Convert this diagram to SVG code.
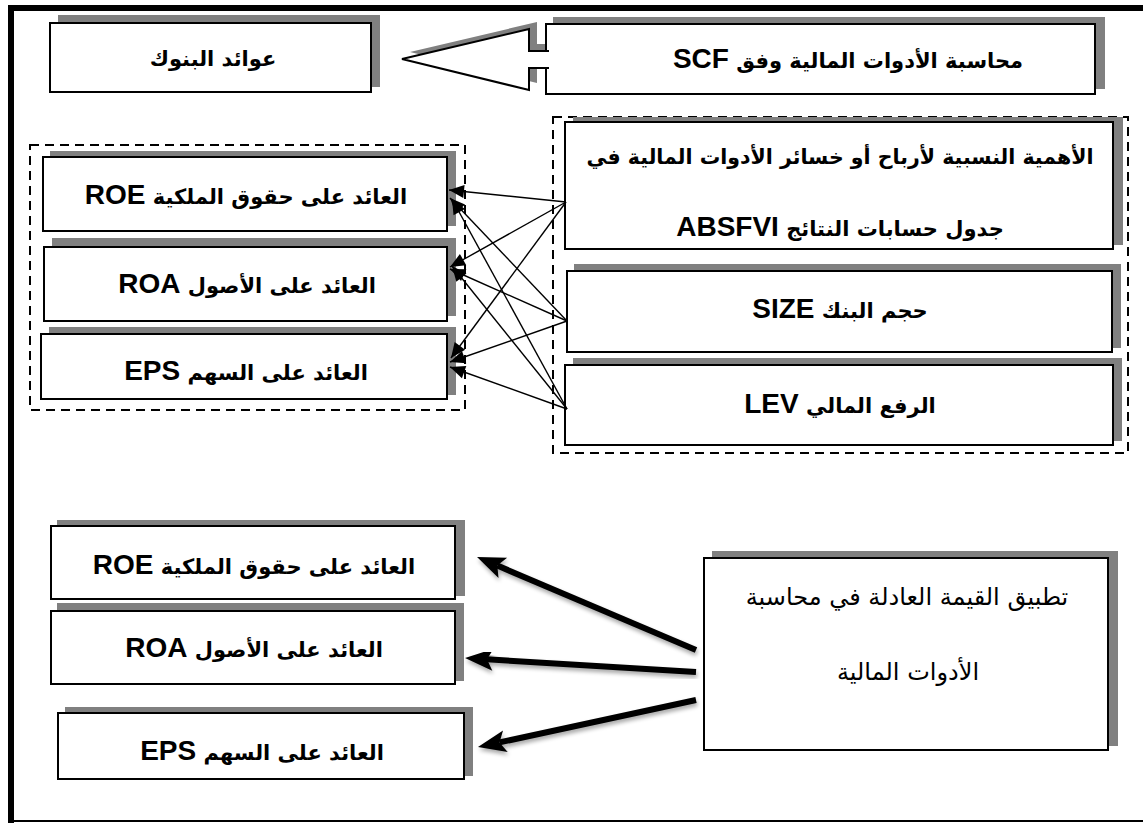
<svg xmlns="http://www.w3.org/2000/svg" width="1143" height="823" viewBox="0 0 1143 823">
<defs>
<style>
.box{fill:#fff;stroke:#000;stroke-width:2}
.sh{fill:#808080}
.grp{fill:none;stroke:#000;stroke-width:2;stroke-dasharray:9 6}
.lb{font-family:"DejaVu Sans",sans-serif;font-weight:bold;font-size:21px;fill:#000}
.lt{font-family:"Liberation Sans",sans-serif;font-weight:bold;font-size:28px}
.rg{font-family:"DejaVu Sans",sans-serif;font-size:24px;fill:#000}
.thin{stroke:#000;stroke-width:1.4;fill:none;marker-end:url(#ah)}
.thick{stroke:#000;stroke-width:6;fill:none;marker-end:url(#bh);filter:url(#ds)}
</style>
<marker id="ah" markerUnits="userSpaceOnUse" markerWidth="16" markerHeight="14" refX="15" refY="6.5" orient="auto" overflow="visible">
<path d="M0,0 L15,6.5 L0,13 z" fill="#000"/>
</marker>
<marker id="bh" markerUnits="userSpaceOnUse" markerWidth="30" markerHeight="24" refX="6" refY="0" orient="auto" overflow="visible">
<path d="M0,-11 L28,0 L0,11 L6,0 z" fill="#000"/>
</marker>
<filter id="ds" x="-20%" y="-50%" width="140%" height="200%">
<feGaussianBlur in="SourceAlpha" stdDeviation="2"/>
<feOffset dx="1" dy="3" result="b"/>
<feComponentTransfer><feFuncA type="linear" slope="0.35"/></feComponentTransfer>
<feMerge><feMergeNode/><feMergeNode in="SourceGraphic"/></feMerge>
</filter>
</defs>
<rect width="1143" height="823" fill="#fff"/>
<g id="frame">
<rect x="8" y="5" width="1135" height="6" fill="#000"/>
<rect x="8" y="5" width="6" height="818" fill="#000"/>
<rect x="8" y="820" width="1135" height="2" fill="#000"/>
</g>
<g id="n-banks">
<rect class="sh" x="58" y="15" width="322" height="72"/>
<rect class="box" x="50" y="23" width="321" height="69"/>
<text class="lb" x="213" y="66" text-anchor="middle" direction="rtl">عوائد البنوك</text>
</g>
<g id="n-scf">
<rect class="sh" x="553" y="17" width="552" height="72"/>
<path class="sh" d="M410,52 L537,22 L537,44 L556,44 L556,61 L537,61 L537,83 z"/>
<rect class="box" x="546" y="24" width="549" height="70"/>
<path d="M549,51 L529,51 L529,29 L402,59 L529,90 L529,68 L549,68" fill="#fff" stroke="#000" stroke-width="2"/>
<text class="lb" x="848" y="68" text-anchor="middle" direction="rtl">محاسبة الأدوات المالية وفق <tspan class="lt">SCF</tspan></text>
</g>
<g id="g-left">
<rect class="grp" x="30" y="145" width="435" height="265"/>
</g>
<g id="g-right">
<rect class="grp" x="553" y="117" width="575" height="336"/>
</g>
<g id="n-roe">
<rect class="sh" x="50" y="151" width="406" height="75"/>
<rect class="box" x="43" y="157" width="404" height="74"/>
<text class="lb" x="246" y="204" text-anchor="middle" direction="rtl">العائد على حقوق الملكية <tspan class="lt">ROE</tspan></text>
</g>
<g id="n-roa">
<rect class="sh" x="52" y="238" width="404" height="78"/>
<rect class="box" x="44" y="247" width="403" height="74"/>
<text class="lb" x="247" y="293" text-anchor="middle" direction="rtl">العائد على الأصول <tspan class="lt">ROA</tspan></text>
</g>
<g id="n-eps">
<rect class="sh" x="49" y="327" width="407" height="68"/>
<rect class="box" x="41" y="334" width="406" height="65"/>
<text class="lb" x="246" y="380" text-anchor="middle" direction="rtl">العائد على السهم <tspan class="lt">EPS</tspan></text>
</g>
<g id="n-absfvi">
<rect class="sh" x="573" y="117" width="550" height="128"/>
<rect class="box" x="565" y="122" width="548" height="127"/>
<text class="lb" x="840" y="164" text-anchor="middle" direction="rtl" style="font-size:20.5px">الأهمية النسبية لأرباح أو خسائر الأدوات المالية في</text>
<text class="lb" x="840" y="236" text-anchor="middle" direction="rtl">جدول حسابات النتائج <tspan class="lt">ABSFVI</tspan></text>
</g>
<g id="n-size">
<rect class="sh" x="574" y="264" width="547" height="84"/>
<rect class="box" x="567" y="271" width="545" height="81"/>
<text class="lb" x="840" y="318" text-anchor="middle" direction="rtl">حجم البنك <tspan class="lt">SIZE</tspan></text>
</g>
<g id="n-lev">
<rect class="sh" x="573" y="358" width="549" height="83"/>
<rect class="box" x="565" y="365" width="548" height="80"/>
<text class="lb" x="840" y="413" text-anchor="middle" direction="rtl">الرفع المالي <tspan class="lt">LEV</tspan></text>
</g>
<g id="n-roe2">
<rect class="sh" x="57" y="520" width="408" height="76"/>
<rect class="box" x="51" y="526" width="404" height="73"/>
<text class="lb" x="254" y="574" text-anchor="middle" direction="rtl">العائد على حقوق الملكية <tspan class="lt">ROE</tspan></text>
</g>
<g id="n-roa2">
<rect class="sh" x="57" y="603" width="407" height="78"/>
<rect class="box" x="51" y="611" width="404" height="73"/>
<text class="lb" x="254" y="657" text-anchor="middle" direction="rtl">العائد على الأصول <tspan class="lt">ROA</tspan></text>
</g>
<g id="n-eps2">
<rect class="sh" x="65" y="707" width="408" height="69"/>
<rect class="box" x="58" y="713" width="406" height="66"/>
<text class="lb" x="262" y="760" text-anchor="middle" direction="rtl">العائد على السهم <tspan class="lt">EPS</tspan></text>
</g>
<g id="n-fair">
<rect class="sh" x="712" y="551" width="406" height="195"/>
<rect class="box" x="704" y="558" width="404" height="192"/>
<text class="rg" x="907" y="605" text-anchor="middle" direction="rtl">تطبيق القيمة العادلة في محاسبة</text>
<text class="rg" x="908" y="680" text-anchor="middle" direction="rtl">الأدوات المالية</text>
</g>
<g id="connectors">
<line class="thin" x1="566" y1="202" x2="449" y2="190"/>
<line class="thin" x1="567" y1="321" x2="450" y2="198"/>
<line class="thin" x1="567" y1="409" x2="452" y2="199"/>
<line class="thin" x1="566" y1="202" x2="450" y2="267"/>
<line class="thin" x1="567" y1="321" x2="450" y2="269"/>
<line class="thin" x1="567" y1="409" x2="452" y2="266"/>
<line class="thin" x1="566" y1="202" x2="451" y2="358"/>
<line class="thin" x1="567" y1="321" x2="450" y2="362"/>
<line class="thin" x1="567" y1="409" x2="450" y2="367"/>
<line class="thick" x1="696" y1="650" x2="497.3" y2="565.6"/>
<line class="thick" x1="696" y1="672" x2="487" y2="659.3"/>
<line class="thick" x1="696" y1="700" x2="499.5" y2="742.4"/>
</g>
</svg>
